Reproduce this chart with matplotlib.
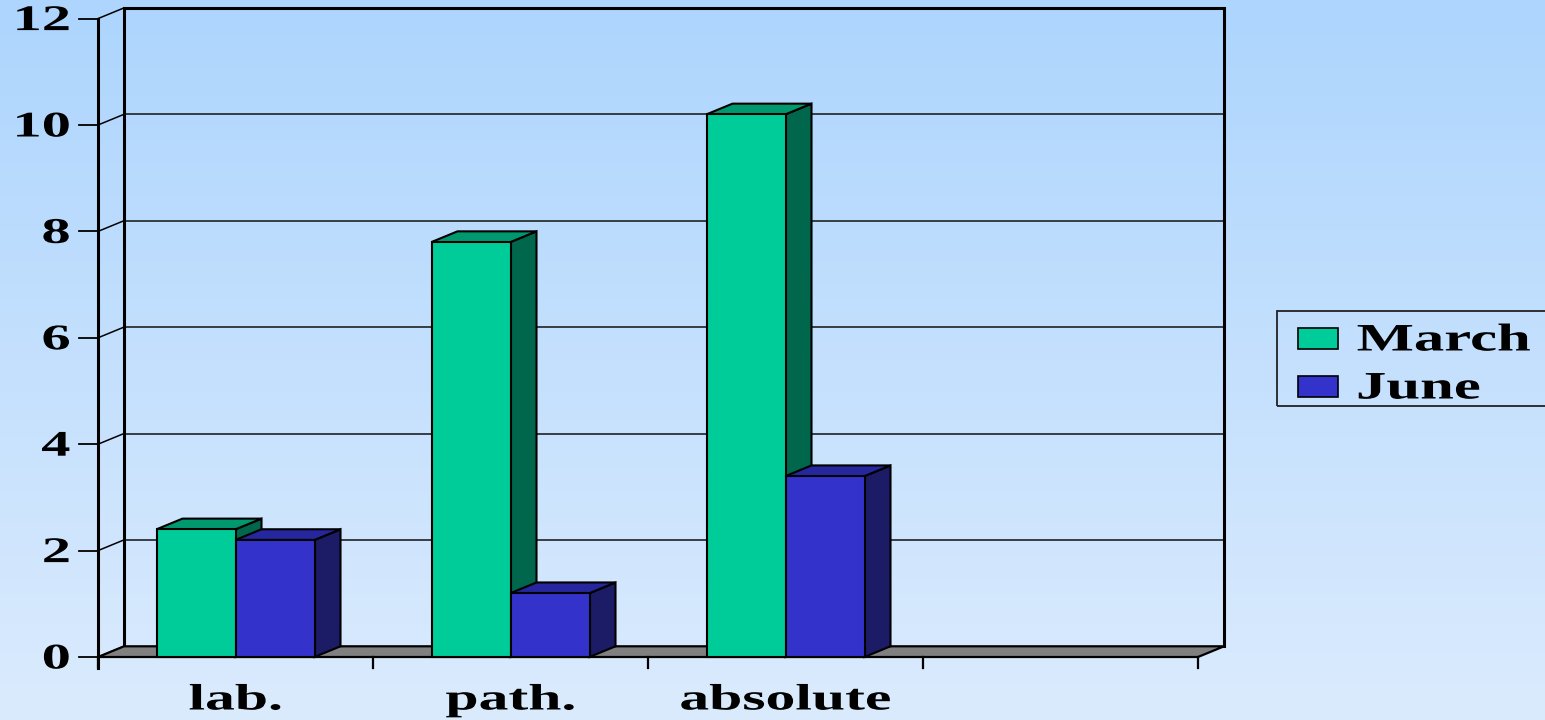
import numpy as np
import matplotlib
matplotlib.use('Agg')
import matplotlib.pyplot as plt
import matplotlib.patheffects as pe
from matplotlib.patches import Polygon, Rectangle
from matplotlib.transforms import Affine2D

# data
categories = ['lab.', 'path.', 'absolute', '']
series = ['March', 'June']
march = [2.4, 7.8, 10.2]
june = [2.2, 1.2, 3.4]
yticks = [0, 2, 4, 6, 8, 10, 12]

front_cols = ['#00CC99', '#3333CC']
top_cols = ['#00996F', '#26269E']
side_cols = ['#00664C', '#1B1B66']


class Stretch(pe.AbstractPathEffect):
    # widen text glyphs horizontally (the original font looks stretched)
    def __init__(self, sx, anchor=0.5):
        super().__init__()
        self.sx = sx
        self.anchor = anchor

    def draw_path(self, renderer, gc, tpath, affine, rgbFace=None):
        ext = tpath.get_extents()
        cx = ext.x0 + self.anchor * ext.width
        st = Affine2D().translate(-cx, 0).scale(self.sx, 1).translate(cx, 0)
        renderer.draw_path(gc, tpath, st + affine, rgbFace)


W, H = 1545, 720
fig = plt.figure(figsize=(W / 100, H / 100), dpi=100)
ax = fig.add_axes([0, 0, 1, 1])
ax.axis('off')

# pixel layout -> data units
x0px, catpx = 98, 275.0
y0px, unitpx = 657, 53.2
xlim = (-x0px / catpx, (W - x0px) / catpx)
ylim = (-(H - y0px) / unitpx, y0px / unitpx)
ax.set_xlim(*xlim)
ax.set_ylim(*ylim)
ddx = 26 / catpx
ddy = 10.7 / unitpx

# background gradient
top = np.array([173, 213, 254]) / 255
bot = np.array([219, 235, 253]) / 255
t = np.linspace(0, 1, 256)[:, None]
grad = (top * (1 - t) + bot * t)[:, None, :]
ax.imshow(grad, extent=(*xlim, *ylim), aspect='auto', zorder=0, origin='upper')

ncat = len(categories)
ymax = yticks[-1]

# back wall + gridlines
for v in yticks[1:-1]:
    ax.plot([ddx, ncat + ddx], [v + ddy, v + ddy], color='#111111', lw=1.1, zorder=1)
ax.plot([ddx, ddx, ncat + ddx, ncat + ddx], [ddy, ymax + ddy, ymax + ddy, ddy],
        color='black', lw=2.2, zorder=1, solid_joinstyle='miter')
# left wall slanted lines
for v in yticks:
    ax.plot([0, ddx], [v, v + ddy], color='black', lw=1.1, zorder=1)
# floor
ax.add_patch(Polygon([(0, 0), (ncat, 0), (ncat + ddx, ddy), (ddx, ddy)],
                     closed=True, facecolor='#808080', edgecolor='black', lw=1.6, zorder=2))

# axis lines and ticks
ax.plot([0, 0], [-11 / unitpx, ymax], color='black', lw=2.2, zorder=6)
for v in yticks:
    ax.plot([-19 / catpx, 0], [v, v], color='black', lw=1.3, zorder=6)
    ax.text(-28 / catpx, v - 3 / unitpx, str(v), ha='right', va='center', fontsize=26,
            fontweight='bold', family='Liberation Serif', zorder=7,
            path_effects=[Stretch(1.62, anchor=1.0)])
for i in range(ncat + 1):
    ax.plot([i, i], [0, -11 / unitpx], color='black', lw=1.6, zorder=6)
for i, c in enumerate(categories):
    if c:
        ax.text(i + 0.5, -43 / unitpx, c, ha='center', va='center', fontsize=26.5,
                fontweight='bold', family='Liberation Serif', zorder=7,
                path_effects=[Stretch(1.62, anchor=0.5)])

# bars
w = 79 / catpx
gap = (1 - 2 * w) / 2
for i in range(len(march)):
    for j, vals in enumerate([march, june]):
        v = vals[i]
        xl = i + gap + j * w
        xr = xl + w
        side = [(xr, 0), (xr + ddx, ddy), (xr + ddx, v + ddy), (xr, v)]
        topf = [(xl, v), (xr, v), (xr + ddx, v + ddy), (xl + ddx, v + ddy)]
        ax.add_patch(Polygon(side, closed=True, facecolor=side_cols[j],
                             edgecolor='black', lw=1.5, zorder=3 + j * 0.1))
        ax.add_patch(Polygon(topf, closed=True, facecolor=top_cols[j],
                             edgecolor='black', lw=1.5, zorder=3 + j * 0.1))
        ax.add_patch(Rectangle((xl, 0), w, v, facecolor=front_cols[j],
                               edgecolor='black', lw=1.5, zorder=3.05 + j * 0.1))

# legend (box runs off the right edge as in the original)
def fx(px):
    return px / W

def fy(py):
    return 1 - py / H

fig.patches.append(Rectangle((fx(1277), fy(406)), fx(1600) - fx(1277), fy(311) - fy(406),
                             transform=fig.transFigure, facecolor='none',
                             edgecolor='#222222', lw=1.3, zorder=8))
for k, (name, yc) in enumerate(zip(series, [338, 386])):
    fig.patches.append(Rectangle((fx(1298), fy(yc + 11)), fx(40), 21 / H,
                                 transform=fig.transFigure, facecolor=front_cols[k],
                                 edgecolor='black', lw=1.2, zorder=8))
    fig.text(fx(1357), fy(yc + 3), name, ha='left', va='center', fontsize=28,
             fontweight='bold', family='Liberation Serif',
             path_effects=[Stretch(1.56, anchor=0.0)])

fig.savefig('out.png', dpi=100)
